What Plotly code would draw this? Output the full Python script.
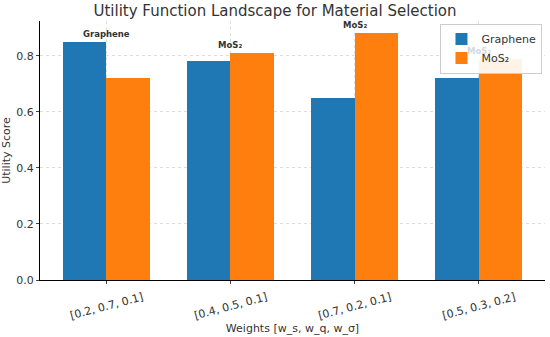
import plotly.graph_objects as go

categories = ["[0.2, 0.7, 0.1]", "[0.4, 0.5, 0.1]", "[0.7, 0.2, 0.1]", "[0.5, 0.3, 0.2]"]
graphene = [0.85, 0.78, 0.65, 0.72]
mos2 = [0.72, 0.81, 0.88, 0.79]
best_labels = ["Graphene", "MoS₂", "MoS₂", "MoS₂"]

x = list(range(len(categories)))
w = 0.35

fig = go.Figure()
fig.add_trace(go.Bar(x=[i - w / 2 for i in x], y=graphene, width=w, name="Graphene",
                     marker=dict(color="#1f77b4", line=dict(width=0))))
fig.add_trace(go.Bar(x=[i + w / 2 for i in x], y=mos2, width=w, name="MoS₂",
                     marker=dict(color="#ff7f0e", line=dict(width=0))))

for i, lab in enumerate(best_labels):
    # the last label sits behind the semi-transparent legend in the reference
    col = "#333333" if i < 3 else "#d8d8d8"
    fig.add_annotation(x=i, y=max(graphene[i], mos2[i]), text="<b>" + lab + "</b>",
                       showarrow=False, yanchor="bottom", yshift=1,
                       font=dict(size=8.5, color=col))

fig.update_layout(
    width=550, height=337,
    margin=dict(l=40, r=5, t=21, b=54),
    paper_bgcolor="white", plot_bgcolor="white",
    font=dict(family="DejaVu Sans", color="#333333"),
    title=dict(text="Utility Function Landscape for Material Selection",
               x=0.5, xanchor="center", y=0.985, yanchor="top",
               font=dict(size=15, color="#333333")),
    bargap=0, barmode="overlay",
    legend=dict(x=0.995, y=0.99, xanchor="right", yanchor="top",
                bgcolor="rgba(255,255,255,0.9)", bordercolor="#cccccc", borderwidth=1,
                font=dict(size=11)),
    showlegend=True,
)
fig.update_xaxes(
    range=[-0.535, 3.535], tickvals=x, ticktext=categories, tickangle=-15,
    ticklabelshift=36, ticklabelstandoff=3,
    tickfont=dict(size=11), showline=True, linecolor="black", linewidth=1,
    ticks="outside", ticklen=3, showgrid=True, gridcolor="#dddddd", griddash="dot",
    title=dict(text="Weights [w_s, w_q, w_σ]", font=dict(size=11), standoff=2),
    zeroline=False,
)
fig.update_yaxes(
    range=[0, 0.924], tickvals=[0, 0.2, 0.4, 0.6, 0.8], tickformat=".1f",
    tickfont=dict(size=11), showline=True, linecolor="black", linewidth=1,
    ticks="outside", ticklen=3, showgrid=True, gridcolor="#dddddd", griddash="dot",
    title=dict(text="Utility Score", font=dict(size=11), standoff=4),
    zeroline=False,
)

fig.write_html("out.html", config={"displayModeBar": False},
               post_script="document.body.style.margin='0';")
